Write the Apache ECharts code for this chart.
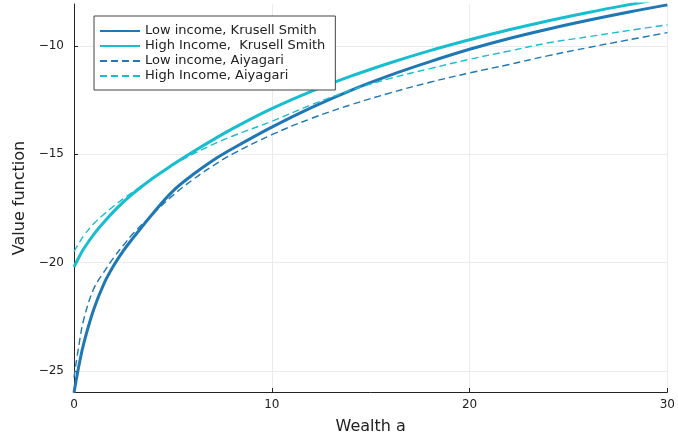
<!DOCTYPE html>
<html>
<head>
<meta charset="utf-8">
<script src="https://cdn.jsdelivr.net/npm/echarts@6/dist/echarts.min.js"></script>
<style>
    html, body { margin: 0; padding: 0; background: #ffffff; }
    #chart { width: 678px; height: 442px; }
</style>
</head>
<body>
<div id="chart"></div>
<script>
    // wealth grid (x) and value functions
    var wealth = [0, 0.25, 0.5, 1, 1.5, 2, 2.5, 3, 4, 5, 6, 7, 8, 10, 12, 14, 16, 18, 20, 22, 24, 26, 28, 30];
    var lowKS = [-26.0, -24.75, -23.7, -22.15, -21.0, -20.15, -19.45, -18.85, -17.72, -16.7, -15.95, -15.3, -14.75, -13.75,
        -12.85, -12.05, -11.35, -10.73, -10.16, -9.66, -9.22, -8.82, -8.45, -8.11];
    var highKS = [-20.2, -19.75, -19.35, -18.7, -18.15, -17.65, -17.2, -16.8, -16.1, -15.48, -14.9, -14.35, -13.83, -12.9,
        -12.1, -11.4, -10.78, -10.22, -9.72, -9.26, -8.84, -8.46, -8.11, -7.78];
    var lowAiyagari = [-25.3, -23.8, -22.6, -21.2, -20.45, -19.78, -19.2, -18.65, -17.75, -16.9, -16.18, -15.55, -15.0, -14.1,
        -13.35, -12.72, -12.17, -11.68, -11.25, -10.86, -10.45, -10.08, -9.73, -9.39];
    var highAiyagari = [-19.5, -19.1, -18.75, -18.2, -17.78, -17.4, -17.05, -16.72, -16.1, -15.5, -15.0, -14.56, -14.17, -13.48,
        -12.72, -12.05, -11.5, -11.05, -10.62, -10.24, -9.86, -9.58, -9.3, -9.03];
    var xTicks = [0, 10, 20, 30];
    var yTicks = [-25, -20, -15, -10];

    var blue = '#1f77b4';
    var teal = '#17becf';

    function pairs(ys) {
        var out = [];
        for (var i = 0; i < wealth.length; i++) {
            out.push([wealth[i], ys[i]]);
        }
        return out;
    }

    function minusSign(v) {
        return String(v).replace('-', '\u2212');
    }

    function lineSeries(name, ys, color, width, dashed) {
        return {
            name: name,
            type: 'line',
            data: pairs(ys),
            symbol: 'none',
            smooth: 0.4,
            clip: true,
            lineStyle: {color: color, width: width, type: dashed ? [7, 4] : 'solid'},
            itemStyle: {color: color},
            emphasis: {disabled: true}
        };
    }

    var option = {
        backgroundColor: '#ffffff',
        animation: false,
        textStyle: {fontFamily: 'DejaVu Sans'},
        grid: {left: 74, right: 9, top: 4, bottom: 50},
        legend: {
            left: 94,
            top: 16,
            orient: 'vertical',
            itemWidth: 40,
            itemHeight: 10,
            itemGap: 1,
            padding: [8, 10, 7, 5],
            borderColor: '#444',
            borderWidth: 1,
            borderRadius: 0,
            backgroundColor: '#fff',
            itemStyle: {opacity: 0},
            textStyle: {fontSize: 13, lineHeight: 14, color: '#222', fontFamily: 'DejaVu Sans'},
            data: ['Low income, Krusell Smith', 'High Income,  Krusell Smith', 'Low income, Aiyagari', 'High Income, Aiyagari']
        },
        xAxis: {
            type: 'value',
            min: 0,
            max: 30,
            interval: 10,
            name: 'Wealth a',
            nameLocation: 'middle',
            nameGap: 27,
            nameTextStyle: {fontSize: 16, color: '#222'},
            axisLine: {lineStyle: {color: '#222', width: 1}},
            axisTick: {inside: true, length: 4, lineStyle: {color: '#222'}},
            axisLabel: {
                fontSize: 12, color: '#222', margin: 7,
                customValues: xTicks,
                formatter: minusSign
            },
            splitLine: {show: true, lineStyle: {color: '#ebebeb', width: 1}}
        },
        yAxis: {
            type: 'value',
            min: -25.97,
            max: -8.07,
            name: 'Value function',
            nameLocation: 'middle',
            nameGap: 44,
            nameTextStyle: {fontSize: 16, color: '#222'},
            axisLine: {show: true, lineStyle: {color: '#222', width: 1}},
            axisTick: {show: true, inside: true, length: 4, customValues: yTicks, lineStyle: {color: '#222'}},
            axisLabel: {
                fontSize: 12, color: '#222', margin: 10,
                customValues: yTicks,
                formatter: minusSign
            },
            splitLine: {show: true, lineStyle: {color: '#ebebeb', width: 1}}
        },
        series: [
            lineSeries('Low income, Krusell Smith', lowKS, blue, 3, false),
            lineSeries('High Income,  Krusell Smith', highKS, teal, 3, false),
            lineSeries('Low income, Aiyagari', lowAiyagari, blue, 1.4, true),
            lineSeries('High Income, Aiyagari', highAiyagari, teal, 1.4, true)
        ]
    };

    var myChart = echarts.init(document.getElementById('chart'));
    myChart.setOption(option);
</script>
</body>
</html>
